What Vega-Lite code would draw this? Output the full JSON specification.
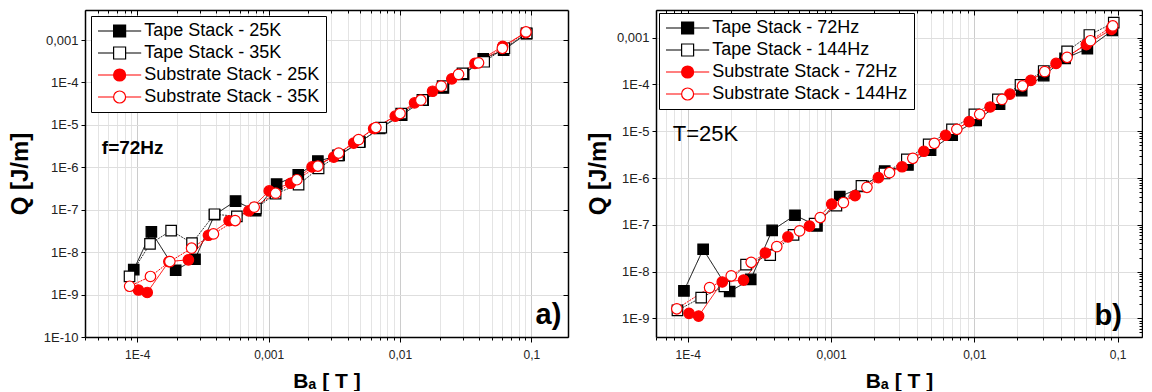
{
  "$schema": "https://vega.github.io/schema/vega-lite/v6.json",
  "padding": {"left": 8, "top": 9, "right": 0, "bottom": 0},
  "background": "white",
  "spacing": 17,
  "config": {
    "font": "Liberation Sans",
    "view": {"stroke": null},
    "axis": {"labelFont": "Liberation Sans", "titleFont": "Liberation Sans", "domainColor": "black", "domainWidth": 1.5, "tickColor": "black", "tickWidth": 1, "labelColor": "#222"},
    "legend": {"labelFont": "Liberation Sans"}
  },
  "datasets": {
    "left": [
      {"s": "Tape Stack - 25K", "B": 9.4e-5, "Q": 3.87e-9},
      {"s": "Tape Stack - 25K", "B": 1.28e-4, "Q": 3.0e-8},
      {"s": "Tape Stack - 25K", "B": 1.96e-4, "Q": 3.75e-9},
      {"s": "Tape Stack - 25K", "B": 2.75e-4, "Q": 6.8e-9},
      {"s": "Tape Stack - 25K", "B": 3.88e-4, "Q": 7.6e-8},
      {"s": "Tape Stack - 25K", "B": 5.6e-4, "Q": 1.6e-7},
      {"s": "Tape Stack - 25K", "B": 7.97e-4, "Q": 9.5e-8},
      {"s": "Tape Stack - 25K", "B": 1.15e-3, "Q": 4.0e-7},
      {"s": "Tape Stack - 25K", "B": 1.68e-3, "Q": 6.6e-7},
      {"s": "Tape Stack - 25K", "B": 2.37e-3, "Q": 1.4e-6},
      {"s": "Tape Stack - 25K", "B": 3.44e-3, "Q": 1.9e-6},
      {"s": "Tape Stack - 25K", "B": 4.95e-3, "Q": 3.95e-6},
      {"s": "Tape Stack - 25K", "B": 7.0e-3, "Q": 8.2e-6},
      {"s": "Tape Stack - 25K", "B": 0.0103, "Q": 1.7e-5},
      {"s": "Tape Stack - 25K", "B": 0.015, "Q": 3.8e-5},
      {"s": "Tape Stack - 25K", "B": 0.0214, "Q": 7.4e-5},
      {"s": "Tape Stack - 25K", "B": 0.0305, "Q": 1.55e-4},
      {"s": "Tape Stack - 25K", "B": 0.043, "Q": 3.6e-4},
      {"s": "Tape Stack - 25K", "B": 0.0615, "Q": 5.8e-4},
      {"s": "Tape Stack - 25K", "B": 0.092, "Q": 1.42e-3},
      {"s": "Tape Stack - 35K", "B": 8.73e-5, "Q": 2.68e-9},
      {"s": "Tape Stack - 35K", "B": 1.25e-4, "Q": 1.56e-8},
      {"s": "Tape Stack - 35K", "B": 1.81e-4, "Q": 3.22e-8},
      {"s": "Tape Stack - 35K", "B": 2.61e-4, "Q": 1.63e-8},
      {"s": "Tape Stack - 35K", "B": 3.87e-4, "Q": 7.83e-8},
      {"s": "Tape Stack - 35K", "B": 5.73e-4, "Q": 6.98e-8},
      {"s": "Tape Stack - 35K", "B": 8.0e-4, "Q": 1.07e-7},
      {"s": "Tape Stack - 35K", "B": 1.13e-3, "Q": 2.4e-7},
      {"s": "Tape Stack - 35K", "B": 1.69e-3, "Q": 3.9e-7},
      {"s": "Tape Stack - 35K", "B": 2.4e-3, "Q": 9.4e-7},
      {"s": "Tape Stack - 35K", "B": 3.37e-3, "Q": 1.91e-6},
      {"s": "Tape Stack - 35K", "B": 4.9e-3, "Q": 3.9e-6},
      {"s": "Tape Stack - 35K", "B": 7.2e-3, "Q": 8.6e-6},
      {"s": "Tape Stack - 35K", "B": 0.0102, "Q": 1.85e-5},
      {"s": "Tape Stack - 35K", "B": 0.0148, "Q": 3.9e-5},
      {"s": "Tape Stack - 35K", "B": 0.0211, "Q": 8.2e-5},
      {"s": "Tape Stack - 35K", "B": 0.0299, "Q": 1.63e-4},
      {"s": "Tape Stack - 35K", "B": 0.0437, "Q": 3.07e-4},
      {"s": "Tape Stack - 35K", "B": 0.0623, "Q": 6.4e-4},
      {"s": "Tape Stack - 35K", "B": 0.092, "Q": 1.44e-3},
      {"s": "Substrate Stack - 25K", "B": 1.02e-4, "Q": 1.28e-9},
      {"s": "Substrate Stack - 25K", "B": 1.19e-4, "Q": 1.12e-9},
      {"s": "Substrate Stack - 25K", "B": 1.74e-4, "Q": 6.0e-9},
      {"s": "Substrate Stack - 25K", "B": 2.45e-4, "Q": 6.6e-9},
      {"s": "Substrate Stack - 25K", "B": 3.48e-4, "Q": 2.5e-8},
      {"s": "Substrate Stack - 25K", "B": 5.0e-4, "Q": 5.5e-8},
      {"s": "Substrate Stack - 25K", "B": 7.07e-4, "Q": 9.4e-8},
      {"s": "Substrate Stack - 25K", "B": 1.01e-3, "Q": 2.77e-7},
      {"s": "Substrate Stack - 25K", "B": 1.47e-3, "Q": 4.2e-7},
      {"s": "Substrate Stack - 25K", "B": 2.14e-3, "Q": 1.02e-6},
      {"s": "Substrate Stack - 25K", "B": 3.13e-3, "Q": 1.74e-6},
      {"s": "Substrate Stack - 25K", "B": 4.44e-3, "Q": 3.73e-6},
      {"s": "Substrate Stack - 25K", "B": 6.3e-3, "Q": 8.2e-6},
      {"s": "Substrate Stack - 25K", "B": 9.2e-3, "Q": 1.6e-5},
      {"s": "Substrate Stack - 25K", "B": 0.0129, "Q": 3.3e-5},
      {"s": "Substrate Stack - 25K", "B": 0.0177, "Q": 6.2e-5},
      {"s": "Substrate Stack - 25K", "B": 0.0248, "Q": 1.22e-4},
      {"s": "Substrate Stack - 25K", "B": 0.0372, "Q": 2.81e-4},
      {"s": "Substrate Stack - 25K", "B": 0.0605, "Q": 7.1e-4},
      {"s": "Substrate Stack - 25K", "B": 0.0905, "Q": 1.5e-3},
      {"s": "Substrate Stack - 35K", "B": 8.75e-5, "Q": 1.57e-9},
      {"s": "Substrate Stack - 35K", "B": 1.26e-4, "Q": 2.67e-9},
      {"s": "Substrate Stack - 35K", "B": 1.77e-4, "Q": 6.0e-9},
      {"s": "Substrate Stack - 35K", "B": 2.59e-4, "Q": 1.24e-8},
      {"s": "Substrate Stack - 35K", "B": 3.8e-4, "Q": 2.69e-8},
      {"s": "Substrate Stack - 35K", "B": 5.56e-4, "Q": 5.56e-8},
      {"s": "Substrate Stack - 35K", "B": 7.76e-4, "Q": 1.15e-7},
      {"s": "Substrate Stack - 35K", "B": 1.13e-3, "Q": 2.45e-7},
      {"s": "Substrate Stack - 35K", "B": 1.64e-3, "Q": 5.09e-7},
      {"s": "Substrate Stack - 35K", "B": 2.37e-3, "Q": 1.07e-6},
      {"s": "Substrate Stack - 35K", "B": 3.41e-3, "Q": 2.17e-6},
      {"s": "Substrate Stack - 35K", "B": 4.84e-3, "Q": 4.49e-6},
      {"s": "Substrate Stack - 35K", "B": 6.55e-3, "Q": 8.63e-6},
      {"s": "Substrate Stack - 35K", "B": 0.01, "Q": 1.85e-5},
      {"s": "Substrate Stack - 35K", "B": 0.0144, "Q": 3.82e-5},
      {"s": "Substrate Stack - 35K", "B": 0.0206, "Q": 8.18e-5},
      {"s": "Substrate Stack - 35K", "B": 0.0279, "Q": 1.55e-4},
      {"s": "Substrate Stack - 35K", "B": 0.0396, "Q": 2.9e-4},
      {"s": "Substrate Stack - 35K", "B": 0.0601, "Q": 6.37e-4},
      {"s": "Substrate Stack - 35K", "B": 0.091, "Q": 1.55e-3}
    ],
    "right": [
      {"s": "Tape Stack - 72Hz", "B": 9.4e-5, "Q": 3.87e-9},
      {"s": "Tape Stack - 72Hz", "B": 1.28e-4, "Q": 3.0e-8},
      {"s": "Tape Stack - 72Hz", "B": 1.96e-4, "Q": 3.75e-9},
      {"s": "Tape Stack - 72Hz", "B": 2.75e-4, "Q": 6.8e-9},
      {"s": "Tape Stack - 72Hz", "B": 3.88e-4, "Q": 7.6e-8},
      {"s": "Tape Stack - 72Hz", "B": 5.6e-4, "Q": 1.6e-7},
      {"s": "Tape Stack - 72Hz", "B": 7.97e-4, "Q": 9.5e-8},
      {"s": "Tape Stack - 72Hz", "B": 1.15e-3, "Q": 4.0e-7},
      {"s": "Tape Stack - 72Hz", "B": 1.68e-3, "Q": 6.6e-7},
      {"s": "Tape Stack - 72Hz", "B": 2.37e-3, "Q": 1.4e-6},
      {"s": "Tape Stack - 72Hz", "B": 3.44e-3, "Q": 1.9e-6},
      {"s": "Tape Stack - 72Hz", "B": 4.95e-3, "Q": 3.95e-6},
      {"s": "Tape Stack - 72Hz", "B": 7.0e-3, "Q": 8.2e-6},
      {"s": "Tape Stack - 72Hz", "B": 0.0103, "Q": 1.7e-5},
      {"s": "Tape Stack - 72Hz", "B": 0.015, "Q": 3.8e-5},
      {"s": "Tape Stack - 72Hz", "B": 0.0214, "Q": 7.4e-5},
      {"s": "Tape Stack - 72Hz", "B": 0.0305, "Q": 1.55e-4},
      {"s": "Tape Stack - 72Hz", "B": 0.043, "Q": 3.6e-4},
      {"s": "Tape Stack - 72Hz", "B": 0.0615, "Q": 5.8e-4},
      {"s": "Tape Stack - 72Hz", "B": 0.092, "Q": 1.42e-3},
      {"s": "Tape Stack - 144Hz", "B": 8.47e-5, "Q": 1.48e-9},
      {"s": "Tape Stack - 144Hz", "B": 1.24e-4, "Q": 2.78e-9},
      {"s": "Tape Stack - 144Hz", "B": 1.8e-4, "Q": 4.83e-9},
      {"s": "Tape Stack - 144Hz", "B": 2.55e-4, "Q": 1.41e-8},
      {"s": "Tape Stack - 144Hz", "B": 3.76e-4, "Q": 2.25e-8},
      {"s": "Tape Stack - 144Hz", "B": 5.47e-4, "Q": 6.08e-8},
      {"s": "Tape Stack - 144Hz", "B": 7.68e-4, "Q": 1.06e-7},
      {"s": "Tape Stack - 144Hz", "B": 1.09e-3, "Q": 2.57e-7},
      {"s": "Tape Stack - 144Hz", "B": 1.63e-3, "Q": 6.78e-7},
      {"s": "Tape Stack - 144Hz", "B": 2.36e-3, "Q": 1.25e-6},
      {"s": "Tape Stack - 144Hz", "B": 3.38e-3, "Q": 2.51e-6},
      {"s": "Tape Stack - 144Hz", "B": 4.8e-3, "Q": 5.25e-6},
      {"s": "Tape Stack - 144Hz", "B": 6.98e-3, "Q": 1.1e-5},
      {"s": "Tape Stack - 144Hz", "B": 0.01, "Q": 2.3e-5},
      {"s": "Tape Stack - 144Hz", "B": 0.0146, "Q": 4.8e-5},
      {"s": "Tape Stack - 144Hz", "B": 0.021, "Q": 9.76e-5},
      {"s": "Tape Stack - 144Hz", "B": 0.0305, "Q": 1.94e-4},
      {"s": "Tape Stack - 144Hz", "B": 0.0444, "Q": 5.1e-4},
      {"s": "Tape Stack - 144Hz", "B": 0.0635, "Q": 1.14e-3},
      {"s": "Tape Stack - 144Hz", "B": 0.094, "Q": 2.09e-3},
      {"s": "Substrate Stack - 72Hz", "B": 1.02e-4, "Q": 1.28e-9},
      {"s": "Substrate Stack - 72Hz", "B": 1.19e-4, "Q": 1.12e-9},
      {"s": "Substrate Stack - 72Hz", "B": 1.74e-4, "Q": 6.0e-9},
      {"s": "Substrate Stack - 72Hz", "B": 2.45e-4, "Q": 6.6e-9},
      {"s": "Substrate Stack - 72Hz", "B": 3.48e-4, "Q": 2.5e-8},
      {"s": "Substrate Stack - 72Hz", "B": 5.0e-4, "Q": 5.5e-8},
      {"s": "Substrate Stack - 72Hz", "B": 7.07e-4, "Q": 9.4e-8},
      {"s": "Substrate Stack - 72Hz", "B": 1.01e-3, "Q": 2.77e-7},
      {"s": "Substrate Stack - 72Hz", "B": 1.47e-3, "Q": 4.2e-7},
      {"s": "Substrate Stack - 72Hz", "B": 2.14e-3, "Q": 1.02e-6},
      {"s": "Substrate Stack - 72Hz", "B": 3.13e-3, "Q": 1.74e-6},
      {"s": "Substrate Stack - 72Hz", "B": 4.44e-3, "Q": 3.73e-6},
      {"s": "Substrate Stack - 72Hz", "B": 6.3e-3, "Q": 8.2e-6},
      {"s": "Substrate Stack - 72Hz", "B": 9.2e-3, "Q": 1.6e-5},
      {"s": "Substrate Stack - 72Hz", "B": 0.0129, "Q": 3.3e-5},
      {"s": "Substrate Stack - 72Hz", "B": 0.0177, "Q": 6.2e-5},
      {"s": "Substrate Stack - 72Hz", "B": 0.0248, "Q": 1.22e-4},
      {"s": "Substrate Stack - 72Hz", "B": 0.0372, "Q": 2.81e-4},
      {"s": "Substrate Stack - 72Hz", "B": 0.0605, "Q": 7.1e-4},
      {"s": "Substrate Stack - 72Hz", "B": 0.0905, "Q": 1.5e-3},
      {"s": "Substrate Stack - 144Hz", "B": 8.38e-5, "Q": 1.6e-9},
      {"s": "Substrate Stack - 144Hz", "B": 1.42e-4, "Q": 4.55e-9},
      {"s": "Substrate Stack - 144Hz", "B": 2.01e-4, "Q": 8.1e-9},
      {"s": "Substrate Stack - 144Hz", "B": 2.77e-4, "Q": 1.58e-8},
      {"s": "Substrate Stack - 144Hz", "B": 4.18e-4, "Q": 3.42e-8},
      {"s": "Substrate Stack - 144Hz", "B": 6.03e-4, "Q": 7.41e-8},
      {"s": "Substrate Stack - 144Hz", "B": 8.4e-4, "Q": 1.43e-7},
      {"s": "Substrate Stack - 144Hz", "B": 1.22e-3, "Q": 2.98e-7},
      {"s": "Substrate Stack - 144Hz", "B": 1.78e-3, "Q": 6.33e-7},
      {"s": "Substrate Stack - 144Hz", "B": 2.56e-3, "Q": 1.3e-6},
      {"s": "Substrate Stack - 144Hz", "B": 3.72e-3, "Q": 2.64e-6},
      {"s": "Substrate Stack - 144Hz", "B": 5.26e-3, "Q": 5.51e-6},
      {"s": "Substrate Stack - 144Hz", "B": 7.55e-3, "Q": 1.1e-5},
      {"s": "Substrate Stack - 144Hz", "B": 0.0109, "Q": 2.3e-5},
      {"s": "Substrate Stack - 144Hz", "B": 0.0156, "Q": 4.8e-5},
      {"s": "Substrate Stack - 144Hz", "B": 0.0217, "Q": 9.3e-5},
      {"s": "Substrate Stack - 144Hz", "B": 0.031, "Q": 1.88e-4},
      {"s": "Substrate Stack - 144Hz", "B": 0.0444, "Q": 3.8e-4},
      {"s": "Substrate Stack - 144Hz", "B": 0.0646, "Q": 8.6e-4},
      {"s": "Substrate Stack - 144Hz", "B": 0.0925, "Q": 1.78e-3}
    ]
  },
  "resolve": {
    "scale": {"x": "independent", "y": "independent", "color": "independent", "fill": "independent", "stroke": "independent", "shape": "independent", "strokeDash": "independent"}
  },
  "hconcat": [
    {
      "width": 483,
      "height": 327,
      "resolve": {"axis": {"x": "independent", "y": "independent"}, "scale": {"fill": "independent", "stroke": "independent", "shape": "independent"}},
      "layer": [
        {
          "data": {"name": "left"},
          "mark": {"type": "line", "strokeWidth": 1, "clip": true},
          "encoding": {
            "x": {"field": "B", "type": "quantitative", "scale": {"type": "log", "domain": [4e-5, 0.19]},
              "axis": {"orient": "bottom", "title": "Bₐ [ T ]", "titleFontSize": 21, "titleFontWeight": "bold", "titleColor": "black", "titlePadding": 10, "labelFontSize": 12, "labelPadding": 7, "labelOverlap": false, "labelFlush": false,
                "values": [0.00004, 0.00005, 0.00006, 0.00007, 0.00008, 0.00009, 0.0001, 0.0002, 0.0003, 0.0004, 0.0005, 0.0006, 0.0007, 0.0008, 0.0009, 0.001, 0.002, 0.003, 0.004, 0.005, 0.006, 0.007, 0.008, 0.009, 0.01, 0.02, 0.03, 0.04, 0.05, 0.06, 0.07, 0.08, 0.09, 0.1],
                "labelExpr": "abs(log(datum.value)/LN10 - round(log(datum.value)/LN10)) < 0.01 ? (datum.value >= 0.0009 ? replace(toString(datum.value), '.', ',') : '1E' + round(log(datum.value)/LN10)) : ''",
                "tickSize": {"condition": {"test": "abs(log(datum.value)/LN10 - round(log(datum.value)/LN10)) < 0.01", "value": 5}, "value": 3},
                "grid": true,
                "gridColor": {"condition": {"test": "abs(log(datum.value)/LN10 - round(log(datum.value)/LN10)) < 0.01", "value": "#cccccc"}, "value": "#e4e4e4"}}},
            "y": {"field": "Q", "type": "quantitative", "scale": {"type": "log", "domain": [1e-10, 0.0051]},
              "axis": {"orient": "left", "title": "Q [J/m]", "titleFontSize": 24, "titleFontWeight": "bold", "titleColor": "black", "titlePadding": 11, "labelFontSize": 13, "labelPadding": 3, "tickSize": 4, "labelOverlap": false,
                "values": [1e-10, 1e-9, 1e-8, 1e-7, 1e-6, 1e-5, 0.0001, 0.001],
                "labelExpr": "datum.value >= 0.0009 ? replace(toString(datum.value), '.', ',') : '1E' + round(log(datum.value)/LN10)",
                "grid": true, "gridColor": "#dedede"}},
            "color": {"field": "s", "type": "nominal", "legend": null, "scale": {"domain": ["Substrate Stack - 35K", "Substrate Stack - 25K", "Tape Stack - 35K", "Tape Stack - 25K"], "range": ["red", "red", "#333333", "black"]}},
            "strokeDash": {"field": "s", "type": "nominal", "legend": null, "scale": {"domain": ["Tape Stack - 35K", "Tape Stack - 25K", "Substrate Stack - 35K", "Substrate Stack - 25K"], "range": [[2, 1], [1, 0], [2, 1], [1, 0]]}}
          }
        },
        {
          "data": {"name": "left"},
          "mark": {"type": "point", "filled": true, "size": 110, "strokeWidth": 1.2, "opacity": 1, "clip": true},
          "encoding": {
            "x": {"field": "B", "type": "quantitative", "scale": {"type": "log", "domain": [4e-5, 0.19]},
              "axis": {"orient": "top", "title": null, "labels": false, "grid": false,
                "values": [0.00004, 0.00005, 0.00006, 0.00007, 0.00008, 0.00009, 0.0001, 0.0002, 0.0003, 0.0004, 0.0005, 0.0006, 0.0007, 0.0008, 0.0009, 0.001, 0.002, 0.003, 0.004, 0.005, 0.006, 0.007, 0.008, 0.009, 0.01, 0.02, 0.03, 0.04, 0.05, 0.06, 0.07, 0.08, 0.09, 0.1],
                "tickSize": {"condition": {"test": "abs(log(datum.value)/LN10 - round(log(datum.value)/LN10)) < 0.01", "value": -5}, "value": -3}}},
            "y": {"field": "Q", "type": "quantitative", "scale": {"type": "log", "domain": [1e-10, 0.0051]},
              "axis": {"orient": "right", "title": null, "labels": false, "grid": false, "tickSize": -5,
                "values": [1e-10, 1e-9, 1e-8, 1e-7, 1e-6, 1e-5, 0.0001, 0.001]}},
            "shape": {"field": "s", "type": "nominal", "legend": null, "scale": {"domain": ["Tape Stack - 25K", "Tape Stack - 35K", "Substrate Stack - 25K", "Substrate Stack - 35K"], "range": ["square", "square", "circle", "circle"]}},
            "fill": {"field": "s", "type": "nominal", "legend": null, "scale": {"domain": ["Tape Stack - 25K", "Tape Stack - 35K", "Substrate Stack - 25K", "Substrate Stack - 35K"], "range": ["black", "white", "red", "white"]}},
            "stroke": {"field": "s", "type": "nominal", "legend": null, "scale": {"domain": ["Tape Stack - 25K", "Tape Stack - 35K", "Substrate Stack - 25K", "Substrate Stack - 35K"], "range": ["black", "black", "red", "red"]}}
          }
        },
        {
          "data": {"name": "left"},
          "mark": {"type": "point", "filled": true, "size": 110, "strokeWidth": 1.2, "opacity": 0, "clip": true},
          "encoding": {
            "x": {"field": "B", "type": "quantitative", "scale": {"type": "log", "domain": [4e-5, 0.19]}, "axis": null},
            "y": {"field": "Q", "type": "quantitative", "scale": {"type": "log", "domain": [1e-10, 0.0051]}, "axis": null},
            "shape": {"field": "s", "type": "nominal", "scale": {"domain": ["Tape Stack - 25K", "Tape Stack - 35K", "Substrate Stack - 25K", "Substrate Stack - 35K"], "range": ["M-3.6,0L-1,0M1,0L3.6,0M-1,-1L1,-1L1,1L-1,1Z", "M-3.6,0L-1,0M1,0L3.6,0M-1,-1L1,-1L1,1L-1,1Z", "M-3.6,0L-1,0M1,0L3.6,0M-1,0A1,1 0 1,1 1,0A1,1 0 1,1 -1,0Z", "M-3.6,0L-1,0M1,0L3.6,0M-1,0A1,1 0 1,1 1,0A1,1 0 1,1 -1,0Z"]},
              "legend": {"title": null, "orient": "top-left", "offset": 6, "padding": 6, "strokeColor": "black", "fillColor": "white", "labelFontSize": 18, "labelColor": "black", "rowPadding": 4, "symbolSize": 144, "symbolStrokeWidth": 1.2, "symbolOpacity": 1, "symbolOffset": 13.6, "labelOffset": 15.6, "labelLimit": 400}},
            "fill": {"field": "s", "type": "nominal", "scale": {"domain": ["Tape Stack - 25K", "Tape Stack - 35K", "Substrate Stack - 25K", "Substrate Stack - 35K"], "range": ["black", "white", "red", "white"]},
              "legend": {"title": null, "orient": "top-left", "offset": 6, "padding": 6, "strokeColor": "black", "fillColor": "white", "labelFontSize": 18, "labelColor": "black", "rowPadding": 4, "symbolSize": 144, "symbolStrokeWidth": 1.2, "symbolOpacity": 1, "symbolOffset": 13.6, "labelOffset": 15.6, "labelLimit": 400}},
            "stroke": {"field": "s", "type": "nominal", "scale": {"domain": ["Tape Stack - 25K", "Tape Stack - 35K", "Substrate Stack - 25K", "Substrate Stack - 35K"], "range": ["black", "black", "red", "red"]},
              "legend": {"title": null, "orient": "top-left", "offset": 6, "padding": 6, "strokeColor": "black", "fillColor": "white", "labelFontSize": 18, "labelColor": "black", "rowPadding": 4, "symbolSize": 144, "symbolStrokeWidth": 1.2, "symbolOpacity": 1, "symbolOffset": 13.6, "labelOffset": 15.6, "labelLimit": 400}}
          }
        },
        {
          "data": {"values": [{"B": 5.37e-5, "Q": 2.02e-6, "t": "f=72Hz"}]},
          "mark": {"type": "text", "align": "left", "baseline": "alphabetic", "fontSize": 19, "fontWeight": "bold", "font": "Liberation Sans", "color": "black"},
          "encoding": {
            "x": {"field": "B", "type": "quantitative", "scale": {"type": "log", "domain": [4e-5, 0.19]}, "axis": null},
            "y": {"field": "Q", "type": "quantitative", "scale": {"type": "log", "domain": [1e-10, 0.0051]}, "axis": null},
            "text": {"field": "t"}
          }
        },
        {
          "data": {"values": [{"B": 0.169, "Q": 2.0e-10, "t": "a)"}]},
          "mark": {"type": "text", "align": "right", "baseline": "alphabetic", "fontSize": 29, "fontWeight": "bold", "font": "Liberation Sans", "color": "black"},
          "encoding": {
            "x": {"field": "B", "type": "quantitative", "scale": {"type": "log", "domain": [4e-5, 0.19]}, "axis": null},
            "y": {"field": "Q", "type": "quantitative", "scale": {"type": "log", "domain": [1e-10, 0.0051]}, "axis": null},
            "text": {"field": "t"}
          }
        }
      ]
    },
    {
      "width": 486,
      "height": 327,
      "resolve": {"axis": {"x": "independent", "y": "independent"}, "scale": {"fill": "independent", "stroke": "independent", "shape": "independent"}},
      "layer": [
        {
          "data": {"name": "right"},
          "mark": {"type": "line", "strokeWidth": 1, "clip": true},
          "encoding": {
            "x": {"field": "B", "type": "quantitative", "scale": {"type": "log", "domain": [6e-5, 0.148]},
              "axis": {"orient": "bottom", "title": "Bₐ [ T ]", "titleFontSize": 21, "titleFontWeight": "bold", "titleColor": "black", "titlePadding": 10, "labelFontSize": 12, "labelPadding": 7, "labelOverlap": false, "labelFlush": false,
                "values": [0.00006, 0.00007, 0.00008, 0.00009, 0.0001, 0.0002, 0.0003, 0.0004, 0.0005, 0.0006, 0.0007, 0.0008, 0.0009, 0.001, 0.002, 0.003, 0.004, 0.005, 0.006, 0.007, 0.008, 0.009, 0.01, 0.02, 0.03, 0.04, 0.05, 0.06, 0.07, 0.08, 0.09, 0.1],
                "labelExpr": "abs(log(datum.value)/LN10 - round(log(datum.value)/LN10)) < 0.01 ? (datum.value >= 0.0009 ? replace(toString(datum.value), '.', ',') : '1E' + round(log(datum.value)/LN10)) : ''",
                "tickSize": {"condition": {"test": "abs(log(datum.value)/LN10 - round(log(datum.value)/LN10)) < 0.01", "value": 5}, "value": 3},
                "grid": true,
                "gridColor": {"condition": {"test": "abs(log(datum.value)/LN10 - round(log(datum.value)/LN10)) < 0.01", "value": "#cccccc"}, "value": "#e4e4e4"}}},
            "y": {"field": "Q", "type": "quantitative", "scale": {"type": "log", "domain": [4e-10, 0.0039]},
              "axis": {"orient": "left", "title": "Q [J/m]", "titleFontSize": 24, "titleFontWeight": "bold", "titleColor": "black", "titlePadding": 6, "labelFontSize": 13, "labelPadding": 3, "tickSize": 4, "labelOverlap": false,
                "values": [1e-9, 1e-8, 1e-7, 1e-6, 1e-5, 0.0001, 0.001],
                "labelExpr": "datum.value >= 0.0009 ? replace(toString(datum.value), '.', ',') : '1E' + round(log(datum.value)/LN10)",
                "grid": true, "gridColor": "#dedede"}},
            "color": {"field": "s", "type": "nominal", "legend": null, "scale": {"domain": ["Substrate Stack - 144Hz", "Substrate Stack - 72Hz", "Tape Stack - 144Hz", "Tape Stack - 72Hz"], "range": ["red", "red", "#333333", "black"]}},
            "strokeDash": {"field": "s", "type": "nominal", "legend": null, "scale": {"domain": ["Tape Stack - 144Hz", "Tape Stack - 72Hz", "Substrate Stack - 144Hz", "Substrate Stack - 72Hz"], "range": [[2, 1], [1, 0], [2, 1], [1, 0]]}}
          }
        },
        {
          "data": {"name": "right"},
          "mark": {"type": "point", "filled": true, "size": 110, "strokeWidth": 1.2, "opacity": 1, "clip": true},
          "encoding": {
            "x": {"field": "B", "type": "quantitative", "scale": {"type": "log", "domain": [6e-5, 0.148]},
              "axis": {"orient": "top", "title": null, "labels": false, "grid": false,
                "values": [0.00006, 0.00007, 0.00008, 0.00009, 0.0001, 0.0002, 0.0003, 0.0004, 0.0005, 0.0006, 0.0007, 0.0008, 0.0009, 0.001, 0.002, 0.003, 0.004, 0.005, 0.006, 0.007, 0.008, 0.009, 0.01, 0.02, 0.03, 0.04, 0.05, 0.06, 0.07, 0.08, 0.09, 0.1],
                "tickSize": {"condition": {"test": "abs(log(datum.value)/LN10 - round(log(datum.value)/LN10)) < 0.01", "value": -5}, "value": -3}}},
            "y": {"field": "Q", "type": "quantitative", "scale": {"type": "log", "domain": [4e-10, 0.0039]},
              "axis": {"orient": "right", "title": null, "labels": false, "grid": false,
                "values": [4e-10, 5e-10, 6e-10, 7e-10, 8e-10, 9e-10, 1e-9, 2e-9, 3e-9, 4e-9, 5e-9, 6e-9, 7e-9, 8e-9, 9e-9, 1e-8, 2e-8, 3e-8, 4e-8, 5e-8, 6e-8, 7e-8, 8e-8, 9e-8, 1e-7, 2e-7, 3e-7, 4e-7, 5e-7, 6e-7, 7e-7, 8e-7, 9e-7, 1e-6, 2e-6, 3e-6, 4e-6, 5e-6, 6e-6, 7e-6, 8e-6, 9e-6, 1e-5, 2e-5, 3e-5, 4e-5, 5e-5, 6e-5, 7e-5, 8e-5, 9e-5, 0.0001, 0.0002, 0.0003, 0.0004, 0.0005, 0.0006, 0.0007, 0.0008, 0.0009, 0.001, 0.002, 0.003],
                "tickSize": {"condition": {"test": "abs(log(datum.value)/LN10 - round(log(datum.value)/LN10)) < 0.01", "value": -5}, "value": -3}}},
            "shape": {"field": "s", "type": "nominal", "legend": null, "scale": {"domain": ["Tape Stack - 72Hz", "Tape Stack - 144Hz", "Substrate Stack - 72Hz", "Substrate Stack - 144Hz"], "range": ["square", "square", "circle", "circle"]}},
            "fill": {"field": "s", "type": "nominal", "legend": null, "scale": {"domain": ["Tape Stack - 72Hz", "Tape Stack - 144Hz", "Substrate Stack - 72Hz", "Substrate Stack - 144Hz"], "range": ["black", "white", "red", "white"]}},
            "stroke": {"field": "s", "type": "nominal", "legend": null, "scale": {"domain": ["Tape Stack - 72Hz", "Tape Stack - 144Hz", "Substrate Stack - 72Hz", "Substrate Stack - 144Hz"], "range": ["black", "black", "red", "red"]}}
          }
        },
        {
          "data": {"name": "right"},
          "mark": {"type": "point", "filled": true, "size": 110, "strokeWidth": 1.2, "opacity": 0, "clip": true},
          "encoding": {
            "x": {"field": "B", "type": "quantitative", "scale": {"type": "log", "domain": [6e-5, 0.148]}, "axis": null},
            "y": {"field": "Q", "type": "quantitative", "scale": {"type": "log", "domain": [4e-10, 0.0039]}, "axis": null},
            "shape": {"field": "s", "type": "nominal", "scale": {"domain": ["Tape Stack - 72Hz", "Tape Stack - 144Hz", "Substrate Stack - 72Hz", "Substrate Stack - 144Hz"], "range": ["M-3.6,0L-1,0M1,0L3.6,0M-1,-1L1,-1L1,1L-1,1Z", "M-3.6,0L-1,0M1,0L3.6,0M-1,-1L1,-1L1,1L-1,1Z", "M-3.6,0L-1,0M1,0L3.6,0M-1,0A1,1 0 1,1 1,0A1,1 0 1,1 -1,0Z", "M-3.6,0L-1,0M1,0L3.6,0M-1,0A1,1 0 1,1 1,0A1,1 0 1,1 -1,0Z"]},
              "legend": {"title": null, "orient": "top-left", "offset": 3, "padding": 6, "strokeColor": "black", "fillColor": "white", "labelFontSize": 18, "labelColor": "black", "rowPadding": 4, "symbolSize": 144, "symbolStrokeWidth": 1.2, "symbolOpacity": 1, "symbolOffset": 13.6, "labelOffset": 15.6, "labelLimit": 400}},
            "fill": {"field": "s", "type": "nominal", "scale": {"domain": ["Tape Stack - 72Hz", "Tape Stack - 144Hz", "Substrate Stack - 72Hz", "Substrate Stack - 144Hz"], "range": ["black", "white", "red", "white"]},
              "legend": {"title": null, "orient": "top-left", "offset": 3, "padding": 6, "strokeColor": "black", "fillColor": "white", "labelFontSize": 18, "labelColor": "black", "rowPadding": 4, "symbolSize": 144, "symbolStrokeWidth": 1.2, "symbolOpacity": 1, "symbolOffset": 13.6, "labelOffset": 15.6, "labelLimit": 400}},
            "stroke": {"field": "s", "type": "nominal", "scale": {"domain": ["Tape Stack - 72Hz", "Tape Stack - 144Hz", "Substrate Stack - 72Hz", "Substrate Stack - 144Hz"], "range": ["black", "black", "red", "red"]},
              "legend": {"title": null, "orient": "top-left", "offset": 3, "padding": 6, "strokeColor": "black", "fillColor": "white", "labelFontSize": 18, "labelColor": "black", "rowPadding": 4, "symbolSize": 144, "symbolStrokeWidth": 1.2, "symbolOpacity": 1, "symbolOffset": 13.6, "labelOffset": 15.6, "labelLimit": 400}}
          }
        },
        {
          "data": {"values": [{"B": 7.86e-5, "Q": 6.21e-6, "t": "T=25K"}]},
          "mark": {"type": "text", "align": "left", "baseline": "alphabetic", "fontSize": 22, "font": "Liberation Sans", "color": "black"},
          "encoding": {
            "x": {"field": "B", "type": "quantitative", "scale": {"type": "log", "domain": [6e-5, 0.148]}, "axis": null},
            "y": {"field": "Q", "type": "quantitative", "scale": {"type": "log", "domain": [4e-10, 0.0039]}, "axis": null},
            "text": {"field": "t"}
          }
        },
        {
          "data": {"values": [{"B": 0.107, "Q": 7.26e-10, "t": "b)"}]},
          "mark": {"type": "text", "align": "right", "baseline": "alphabetic", "fontSize": 29, "fontWeight": "bold", "font": "Liberation Sans", "color": "black"},
          "encoding": {
            "x": {"field": "B", "type": "quantitative", "scale": {"type": "log", "domain": [6e-5, 0.148]}, "axis": null},
            "y": {"field": "Q", "type": "quantitative", "scale": {"type": "log", "domain": [4e-10, 0.0039]}, "axis": null},
            "text": {"field": "t"}
          }
        }
      ]
    }
  ]
}
